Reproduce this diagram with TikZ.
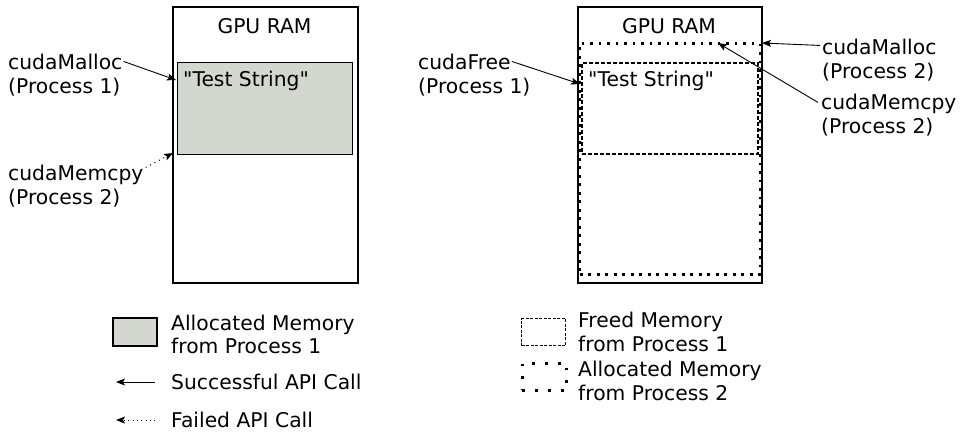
\documentclass[tikz,border=0pt]{standalone}
\usepackage{fontspec}
\setmainfont{DejaVu Sans}[Ligatures=TeXOff]
\usetikzlibrary{arrows.meta,calc}
\definecolor{memgray}{HTML}{D3D7CF}
\tikzset{
  txt/.style={inner sep=0pt, anchor=base west, font=\fontsize{20.3}{24}\selectfont},
  ctxt/.style={txt, anchor=base},
  ram/.style={draw, line width=1.6pt, inner sep=0pt, anchor=north west, minimum width=#1pt},
  alloc1/.style={draw, fill=memgray, line width=1.4pt, inner sep=0pt, anchor=north west},
  freed/.style={draw, line width=1.6pt, dash pattern=on 4pt off 2pt},
  alloc2/.style={draw, line width=2.7pt, dash pattern=on 2.7pt off 5.8pt},
  okarrow/.style={-{Stealth[length=9pt,width=7pt,inset=2pt]}, line width=0.9pt},
  failarrow/.style={-{Stealth[length=9pt,width=7pt,inset=2pt]}, line width=1pt, dash pattern=on 1pt off 4pt},
}
\begin{document}
\begin{tikzpicture}[x=1pt,y=-1pt]
\useasboundingbox (0,0) rectangle (968,432);

% ---------- left panel ----------
\node[ram=185, minimum height=276pt] (ramL) at (172,6) {};
\node[alloc1, minimum width=175pt, minimum height=92pt] (grayL) at (177,62) {};
\node[ctxt] (gpuL) at (264.5,33) {GPU RAM};
\node[txt] (tsL) at (183,86) {"Test String"};

\node[txt] (m1) at (8,69) {cudaMalloc};
\node[txt] (m1b) at (8,93) {(Process 1)};
\node[txt] (mc1) at (8,180) {cudaMemcpy};
\node[txt] (mc1b) at (8,204) {(Process 2)};
\coordinate (t1) at (176,80);
\coordinate (t2) at (173,153);
\draw[okarrow] ($(m1.east)+(1,0)$) -- (t1);
\draw[failarrow] ($(mc1.east)+(2,-7)$) -- (t2);

% ---------- right panel ----------
\node[ram=184, minimum height=276pt] (ramR) at (577,6) {};
\node[ctxt] (gpuR) at (669,33) {GPU RAM};
\node[freed, inner sep=0pt, anchor=north west, minimum width=176pt, minimum height=91pt] (freedR) at (581,62) {};
\node[alloc2, inner sep=0pt, anchor=north west, minimum width=180pt, minimum height=231pt] (allocR) at (578.5,42) {};
\node[txt] (tsR) at (588,86) {"Test String"};

\node[txt] (cf) at (418,69) {cudaFree};
\node[txt] (cfb) at (418,93) {(Process 1)};
\node[txt] (m2) at (822,54) {cudaMalloc};
\node[txt] (m2b) at (822,78) {(Process 2)};
\node[txt] (mc2) at (821,109) {cudaMemcpy};
\node[txt] (mc2b) at (821,133) {(Process 2)};
\coordinate (t3) at (580,84);
\coordinate (t4) at (762,43);
\coordinate (t5) at (718,43);
\draw[okarrow] ($(cf.east)+(1,0)$) -- (t3);
\draw[okarrow] ($(m2.west)+(-2,-1)$) -- (t4);
\draw[okarrow] ($(mc2.west)+(-3,-1)$) -- (t5);

% ---------- legend ----------
\node[alloc1, line width=1.6pt, minimum width=44pt, minimum height=28pt] (lgGray) at (112,317) {};
\node[txt] (lgA1) at (171,330) {Allocated Memory};
\node[txt] (lgA2) at (171,353) {from Process 1};
\coordinate (okS) at (155,382);
\coordinate (okE) at (116,382);
\draw[okarrow] (okS) -- (okE);
\node[txt] (lgOk) at (171,389) {Successful API Call};
\coordinate (fS) at (155,420);
\coordinate (fE) at (116,420);
\draw[failarrow, dash pattern=on 0.9pt off 3.4pt] (fS) -- (fE);
\node[txt] (lgFail) at (171,427) {Failed API Call};

\node[freed, line width=1.4pt, dash pattern=on 3pt off 1.5pt, inner sep=0pt, anchor=north west, minimum width=44pt, minimum height=27pt] (lgFreed) at (521,318) {};
\node[txt] (lgF1) at (578,327) {Freed Memory};
\node[txt] (lgF2) at (578,351) {from Process 1};
\node[alloc2, line width=2.8pt, dash pattern=on 2.8pt off 10pt, inner sep=0pt, anchor=north west, minimum width=44pt, minimum height=27pt] (lgAlloc2) at (521,362) {};
\node[txt] (lgB1) at (578,376) {Allocated Memory};
\node[txt] (lgB2) at (578,400) {from Process 2};
\end{tikzpicture}
\end{document}
